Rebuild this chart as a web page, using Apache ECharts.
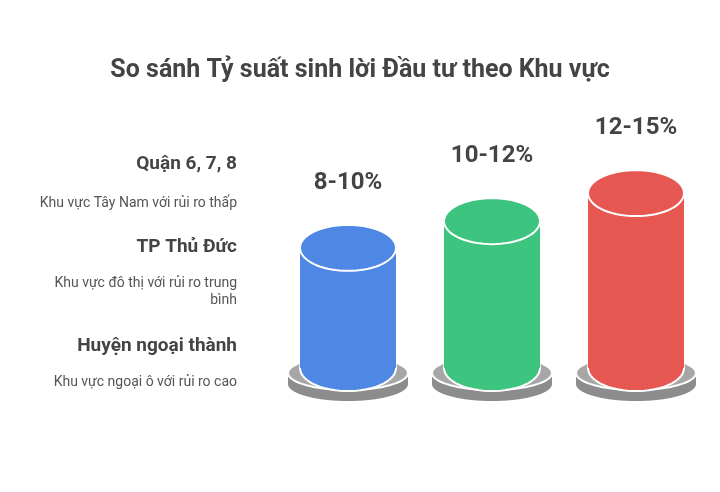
<!DOCTYPE html>
<html>
<head>
<meta charset="utf-8">
<script src="https://cdn.jsdelivr.net/npm/echarts@6/dist/echarts.min.js"></script>
<style>html,body{margin:0;padding:0;background:#fff}#c{width:720px;height:492px}</style>
</head>
<body>
<div id="c"></div>
<script>
// du lieu
var regions = ['Quận 6, 7, 8', 'TP Thủ Đức', 'Huyện ngoại thành'];
var notes = ['Khu vực Tây Nam với rủi ro thấp', 'Khu vực đô thị với rủi ro trung\nbình', 'Khu vực ngoại ô với rủi ro cao'];
var rangeLabels = ['8-10%', '10-12%', '12-15%'];
var midValues = [9, 11, 13.1];
var colors = ['#4E87E4', '#3DC47E', '#E55750'];

var FONT = 'Roboto, "Noto Sans", sans-serif';

function ellipsePts(cx, cy, rx, ry) {
  var pts = [];
  for (var i = 0; i < 72; i++) {
    var a = i / 72 * Math.PI * 2;
    pts.push([cx + rx * Math.cos(a), cy + ry * Math.sin(a)]);
  }
  return pts;
}

function renderItem(params, api) {
  var idx = api.value(0);
  var top = api.coord([idx, api.value(1)]);
  var bot = api.coord([idx, 0]);
  var cx = top[0], ty = top[1], by = bot[1];
  var rx = 48, ry = 23, brx = 60, bry = 17;
  var col = colors[idx];
  return {
    type: 'group',
    children: [
      { type: 'polygon', shape: { points: ellipsePts(cx, by + 16, brx, bry) }, style: { fill: '#8c8c8c' } },
      { type: 'rect', shape: { x: cx - brx, y: by + 5, width: brx * 2, height: 11 }, style: { fill: '#8c8c8c' } },
      { type: 'polygon', shape: { points: ellipsePts(cx, by + 5, brx, bry) }, style: { fill: '#a6a6a6', stroke: '#fff', lineWidth: 2 } },
      { type: 'polygon', shape: { points: ellipsePts(cx, by, rx, ry) }, style: { fill: col, stroke: '#fff', lineWidth: 2 } },
      { type: 'rect', shape: { x: cx - rx, y: ty, width: rx * 2, height: by - ty }, style: { fill: col } },
      { type: 'polygon', shape: { points: ellipsePts(cx, ty, rx, ry) }, style: { fill: col, stroke: '#fff', lineWidth: 2 } },
      { type: 'text', style: { x: cx, y: ty - 65, text: rangeLabels[idx], fill: '#444', font: 'bold 24px ' + FONT, align: 'center', verticalAlign: 'middle' } }
    ]
  };
}

var headY = [167, 250, 349];
var noteY = [204, 284, 383];
var graphics = [];
regions.forEach(function (r, i) {
  graphics.push({ type: 'text', right: 720 - 237, top: headY[i] - 12, style: { text: r, fill: '#444', font: 'bold 19px ' + FONT, textAlign: 'right' } });
  graphics.push({ type: 'text', right: 720 - 237, top: noteY[i] - 9, style: { text: notes[i], fill: '#555', font: '14px ' + FONT, textAlign: 'right', lineHeight: 17 } });
});

var chart = echarts.init(document.getElementById('c'));
chart.setOption({
  animation: false,
  title: { text: 'So sánh Tỷ suất sinh lời Đầu tư theo Khu vực', left: 'center', top: 53, textStyle: { fontFamily: FONT, fontSize: 25, fontWeight: 'bold', color: '#444' } },
  grid: { left: 276, right: 12, top: 101, bottom: 492 - 368 },
  xAxis: { type: 'category', data: regions, show: false },
  yAxis: { type: 'value', min: 0, max: 20, show: false },
  graphic: graphics,
  series: [{
    type: 'custom',
    renderItem: renderItem,
    data: midValues.map(function (v, i) { return [i, v]; })
  }]
});
</script>
</body>
</html>
